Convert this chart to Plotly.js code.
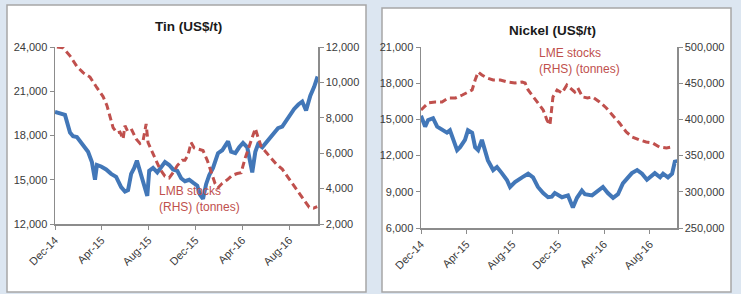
<!DOCTYPE html>
<html>
<head>
<meta charset="utf-8">
<script src="https://cdn.plot.ly/plotly-3.0.1.min.js"></script>
<style>
  html, body { margin: 0; padding: 0; background: #dce6f1; }
  #chart { width: 741px; height: 294px; }
</style>
</head>
<body>
<div id="chart"></div>
<script>
// ---- Data ----
const tickDates = ['2014-12-01','2015-04-01','2015-08-01','2015-12-01','2016-04-01','2016-08-01'];
const tickLabels = ['Dec-14','Apr-15','Aug-15','Dec-15','Apr-16','Aug-16'];

const tinPriceDates = ['2014-12-01','2014-12-14','2014-12-27','2015-01-09','2015-01-17','2015-01-27','2015-02-04','2015-02-14','2015-02-25','2015-03-07','2015-03-15','2015-03-20','2015-03-31','2015-04-13','2015-04-26','2015-05-09','2015-05-22','2015-06-01','2015-06-09','2015-06-17','2015-06-25','2015-07-02','2015-07-10','2015-07-18','2015-07-29','2015-08-03','2015-08-13','2015-08-24','2015-09-03','2015-09-13','2015-09-24','2015-10-04','2015-10-15','2015-10-25','2015-11-04','2015-11-15','2015-11-25','2015-12-06','2015-12-13','2015-12-21','2015-12-29','2016-01-06','2016-01-16','2016-01-29','2016-02-09','2016-02-17','2016-02-24','2016-03-03','2016-03-14','2016-03-24','2016-04-03','2016-04-14','2016-04-22','2016-04-27','2016-05-05','2016-05-12','2016-05-23','2016-06-02','2016-06-13','2016-06-23','2016-07-03','2016-07-14','2016-07-24','2016-08-04','2016-08-14','2016-08-25','2016-09-04','2016-09-14','2016-09-25','2016-10-05','2016-10-14'];
const tinPrice = [19600,19500,19400,18200,17950,17900,17600,17200,16900,16200,15000,16000,15900,15700,15400,15200,14500,14200,14300,15400,15800,16300,15600,15000,13900,15600,15800,15500,15800,16200,16000,15700,15600,15100,14900,15000,14800,14600,14000,13700,14700,15300,15800,16800,17000,17300,17600,16900,16800,17200,17500,17200,15900,15500,16900,17400,17200,17500,17900,18100,18500,18600,19000,19500,19800,20100,20300,19700,20700,21300,22000];

const tinStockDates = ['2014-12-06','2014-12-22','2015-01-09','2015-01-27','2015-02-12','2015-03-02','2015-03-20','2015-04-05','2015-04-15','2015-04-23','2015-05-01','2015-05-11','2015-05-19','2015-05-27','2015-06-01','2015-06-09','2015-06-19','2015-06-30','2015-07-10','2015-07-18','2015-07-26','2015-07-31','2015-08-10','2015-08-21','2015-08-31','2015-09-13','2015-09-24','2015-10-04','2015-10-15','2015-10-28','2015-11-04','2015-11-12','2015-11-20','2015-11-28','2015-12-11','2015-12-21','2016-01-01','2016-01-11','2016-01-21','2016-01-29','2016-02-09','2016-02-22','2016-03-06','2016-03-19','2016-03-29','2016-04-09','2016-04-19','2016-04-27','2016-05-05','2016-05-12','2016-05-20','2016-06-02','2016-06-15','2016-06-28','2016-07-14','2016-07-29','2016-08-14','2016-08-30','2016-09-12','2016-09-22','2016-10-03','2016-10-13'];
const tinStocks = [12000,11950,11500,10900,10550,10300,9700,9200,8700,8000,7450,7150,7200,6800,7550,7200,7300,6800,6550,6700,7650,6600,6100,5600,5100,4700,4600,4900,5300,5600,5600,5900,6600,6300,6200,6150,5600,4900,4300,4050,4300,4500,4750,4850,4900,5750,6400,6900,7400,6900,6400,6050,5700,5400,5100,4650,4150,3650,3250,2950,2900,2980];

const nickelPriceDates = ['2014-12-01','2014-12-12','2014-12-20','2015-01-02','2015-01-13','2015-01-26','2015-02-08','2015-02-16','2015-02-24','2015-03-07','2015-03-15','2015-03-28','2015-04-05','2015-04-16','2015-04-24','2015-05-02','2015-05-12','2015-05-20','2015-05-28','2015-06-11','2015-06-21','2015-07-04','2015-07-18','2015-07-26','2015-08-08','2015-08-27','2015-09-12','2015-09-25','2015-10-08','2015-10-22','2015-11-04','2015-11-14','2015-11-22','2015-12-11','2015-12-27','2016-01-09','2016-01-20','2016-02-02','2016-02-10','2016-02-29','2016-03-16','2016-03-29','2016-04-11','2016-04-25','2016-05-08','2016-05-21','2016-06-04','2016-06-14','2016-06-28','2016-07-11','2016-07-24','2016-08-01','2016-08-14','2016-08-28','2016-09-05','2016-09-18','2016-09-29','2016-10-07','2016-10-12'];
const nickelPrice = [15300,14400,14950,15100,14400,14100,13900,14100,13300,12450,12700,13300,14100,13900,12700,12450,13300,12450,11600,10800,11050,10550,9950,9400,9800,10200,10500,10200,9400,8900,8550,8600,8900,8550,8700,7700,8500,9100,8800,8700,9100,9400,8900,8500,8800,9700,10200,10550,10800,10500,10000,10200,10550,10200,10500,10200,10500,11600,11400];

const nickelStockDates = ['2014-12-01','2014-12-20','2015-01-08','2015-01-26','2015-02-12','2015-03-03','2015-03-21','2015-04-05','2015-04-16','2015-04-24','2015-05-02','2015-05-12','2015-05-26','2015-06-11','2015-06-30','2015-07-18','2015-08-08','2015-08-27','2015-09-04','2015-09-12','2015-09-25','2015-10-08','2015-10-22','2015-11-01','2015-11-09','2015-11-17','2015-11-28','2015-12-11','2015-12-24','2016-01-01','2016-01-14','2016-01-22','2016-02-04','2016-02-17','2016-03-01','2016-03-20','2016-04-07','2016-04-23','2016-05-12','2016-05-30','2016-06-15','2016-07-04','2016-07-22','2016-08-08','2016-08-26','2016-09-14','2016-09-28'];
const nickelStocks = [413000,422700,424000,424000,429600,429600,433700,437900,440600,454400,465500,461300,457200,454400,454400,451700,450300,451700,450300,440600,431000,422700,413000,399200,392300,431000,440600,436400,447500,443400,437900,443400,431000,429600,431000,424000,415800,406100,395000,382600,375700,371600,368800,367400,361900,360500,361900];

const titles = ['Tin (US$/t)', 'Nickel (US$/t)'];
const stockLabels = ['LMB stocks<br>(RHS) (tonnes)', 'LME stocks<br>(RHS) (tonnes)'];

// ---- Styling ----
const W = 741, H = 294;
const px = v => v / W;
const py = v => 1 - v / H;
const FONT = 'Liberation Sans, Arial, sans-serif';
const BLUE = '#4277b8';
const RED = '#c0504d';
const AXIS = '#8c8c8c';
const TXT = '#3a3a3a';

const tickFont = {family: FONT, size: 11, color: TXT};

function xAxis(domain, anchor, endDate) {
  return {
    domain: domain, anchor: anchor, type: 'date',
    range: ['2014-12-01', endDate],
    tickmode: 'array', tickvals: tickDates, ticktext: tickLabels,
    tickangle: -45, ticks: 'outside', ticklen: 4, tickcolor: AXIS, tickwidth: 1,
    showline: true, linecolor: AXIS, linewidth: 1.5,
    showgrid: false, zeroline: false, tickfont: tickFont, automargin: false
  };
}
function yAxis(domain, anchor, range, dtick, extra) {
  return Object.assign({
    domain: domain, anchor: anchor, range: range, dtick: dtick, tick0: range[0],
    tickformat: ',d', ticks: 'outside', ticklen: 4, tickcolor: AXIS, tickwidth: 1,
    showline: true, linecolor: AXIS, linewidth: 1.5,
    showgrid: false, zeroline: false, tickfont: tickFont, automargin: false
  }, extra || {});
}

const dom1x = [px(55), px(318)], dom1y = [py(224), py(47)];
const dom2x = [px(421), px(677)], dom2y = [py(228), py(47)];

const data = [
  {x: tinPriceDates, y: tinPrice, xaxis: 'x', yaxis: 'y', mode: 'lines',
   line: {color: BLUE, width: 4}, hoverinfo: 'skip'},
  {x: tinStockDates, y: tinStocks, xaxis: 'x', yaxis: 'y2', mode: 'lines',
   line: {color: RED, width: 3, dash: '7px,4px'}, hoverinfo: 'skip'},
  {x: nickelPriceDates, y: nickelPrice, xaxis: 'x2', yaxis: 'y3', mode: 'lines',
   line: {color: BLUE, width: 4}, hoverinfo: 'skip'},
  {x: nickelStockDates, y: nickelStocks, xaxis: 'x2', yaxis: 'y4', mode: 'lines',
   line: {color: RED, width: 3, dash: '7px,4px'}, hoverinfo: 'skip'}
];

const layout = {
  width: W, height: H,
  margin: {l: 0, r: 0, t: 0, b: 0, pad: 0},
  paper_bgcolor: '#dce6f1', plot_bgcolor: 'rgba(0,0,0,0)',
  showlegend: false,
  font: {family: FONT, color: TXT},
  xaxis: xAxis(dom1x, 'y', '2016-10-15'),
  yaxis: yAxis(dom1y, 'x', [12000, 24000], 3000),
  yaxis2: yAxis(dom1y, 'x', [2000, 12000], 2000, {overlaying: 'y', side: 'right'}),
  xaxis2: xAxis(dom2x, 'y3', '2016-10-12'),
  yaxis3: yAxis(dom2y, 'x2', [6000, 21000], 3000),
  yaxis4: yAxis(dom2y, 'x2', [250000, 500000], 50000, {overlaying: 'y3', side: 'right'}),
  shapes: [
    {type: 'rect', xref: 'paper', yref: 'paper', x0: px(7), x1: px(366), y0: py(292), y1: py(5),
     fillcolor: '#ffffff', line: {color: '#a6a6a6', width: 1.5}, layer: 'below'},
    {type: 'rect', xref: 'paper', yref: 'paper', x0: px(382), x1: px(731), y0: py(292), y1: py(8),
     fillcolor: '#ffffff', line: {color: '#a6a6a6', width: 1.5}, layer: 'below'}
  ],
  annotations: [
    {text: '<b>' + titles[0] + '</b>', xref: 'paper', yref: 'paper', x: px(188), y: py(27),
     xanchor: 'center', yanchor: 'middle', showarrow: false, font: {family: FONT, size: 13.5, color: '#1a1a1a'}},
    {text: '<b>' + titles[1] + '</b>', xref: 'paper', yref: 'paper', x: px(552), y: py(30),
     xanchor: 'center', yanchor: 'middle', showarrow: false, font: {family: FONT, size: 13.5, color: '#1a1a1a'}},
    {text: stockLabels[0], xref: 'paper', yref: 'paper', x: px(157), y: py(199),
     xanchor: 'left', yanchor: 'middle', align: 'left', showarrow: false, font: {family: FONT, size: 12, color: RED}},
    {text: stockLabels[1], xref: 'paper', yref: 'paper', x: px(537), y: py(61),
     xanchor: 'left', yanchor: 'middle', align: 'left', showarrow: false, font: {family: FONT, size: 12, color: RED}}
  ]
};

Plotly.newPlot('chart', data, layout, {staticPlot: true, displayModeBar: false});
</script>
</body>
</html>
